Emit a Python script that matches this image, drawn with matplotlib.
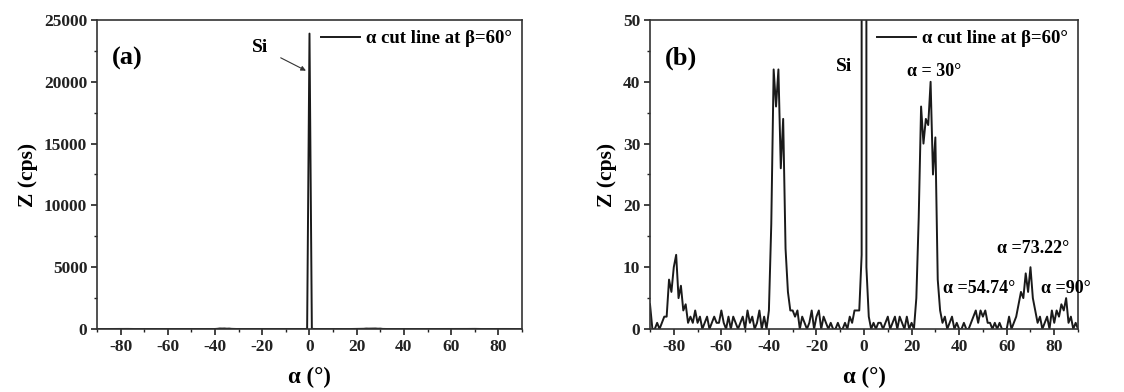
import numpy as np
import matplotlib
matplotlib.use("Agg")
import matplotlib.pyplot as plt
from matplotlib.ticker import MultipleLocator

plt.rcParams['font.family'] = ['Liberation Serif', 'DejaVu Serif']
plt.rcParams['font.weight'] = 'bold'
plt.rcParams['axes.labelweight'] = 'bold'
plt.rcParams['axes.unicode_minus'] = False

# alpha cut line at beta = 60 deg, 1 deg steps from -90 to 90
alpha = list(range(-90, 91))
counts = [
    4, 0, 0, 1, 0, 1, 2, 2, 8, 6,            # -90 .. -81
    10, 12, 5, 7, 3, 4, 1, 2, 1, 3,          # -80 .. -71
    1, 2, 0, 1, 2, 0, 1, 2, 1, 1,            # -70 .. -61
    3, 1, 0, 2, 0, 2, 1, 0, 1, 2,            # -60 .. -51
    0, 3, 1, 2, 0, 1, 3, 0, 2, 0,            # -50 .. -41
    3, 17, 42, 36, 42, 26, 34, 13, 6, 3,     # -40 .. -31
    3, 2, 3, 0, 2, 1, 0, 1, 3, 0,            # -30 .. -21
    2, 3, 0, 2, 1, 0, 1, 0, 0, 1,            # -20 .. -11
    0, 0, 1, 0, 2, 1, 3, 3, 3, 12, 23900,    # -10 .. 0   (Si)
    10, 2, 0, 1, 0, 1, 1, 0, 1, 2,           # 1 .. 10
    0, 1, 2, 0, 2, 1, 0, 2, 0, 1,            # 11 .. 20
    0, 5, 18, 36, 30, 34, 33, 40, 25, 31,    # 21 .. 30
    8, 3, 1, 2, 0, 1, 2, 0, 1, 0,            # 31 .. 40
    0, 1, 0, 0, 1, 2, 3, 1, 3, 2,            # 41 .. 50
    3, 1, 1, 0, 1, 0, 1, 0, 0, 0,            # 51 .. 60
    2, 0, 1, 2, 4, 6, 5, 9, 6, 10,           # 61 .. 70
    5, 3, 1, 2, 0, 1, 2, 0, 3, 1,            # 71 .. 80
    3, 2, 4, 3, 5, 1, 2, 0, 1, 0,            # 81 .. 90
]

legend_label = "α cut line at β=60°"
line_color = "#1a1a1a"

fig = plt.figure(figsize=(11.24, 3.92), dpi=100)
ax1 = fig.add_axes([0.0863, 0.1607, 0.3781, 0.7883])
ax2 = fig.add_axes([0.5783, 0.1607, 0.3808, 0.7883])


def style(ax, ymax, ymajor, yminor):
    ax.set_xlim(-90, 90)
    ax.set_ylim(0, ymax)
    ax.xaxis.set_major_locator(MultipleLocator(20))
    ax.xaxis.set_minor_locator(MultipleLocator(10))
    ax.yaxis.set_major_locator(MultipleLocator(ymajor))
    ax.yaxis.set_minor_locator(MultipleLocator(yminor))
    ax.set_xticks(range(-80, 81, 20))
    ax.tick_params(which='major', direction='out', length=4, width=1.2,
                   labelsize=12.5, colors='#222222', pad=3)
    ax.tick_params(which='minor', direction='out', length=2.5, width=1.0,
                   colors='#222222')
    for lab in ax.get_xticklabels() + ax.get_yticklabels():
        lab.set_fontweight('bold')
    for s in ax.spines.values():
        s.set_linewidth(1.2)
        s.set_color('#333333')
    ax.set_xlabel("α (°)", fontsize=16.5, labelpad=9)
    ax.set_ylabel("Z (cps)", fontsize=15.5, labelpad=4)
    leg = ax.legend(loc='upper right', frameon=False, fontsize=13.5,
                    handlelength=2.1, handletextpad=0.3,
                    borderaxespad=0.15)
    for t in leg.get_texts():
        t.set_fontweight('bold')


# panel (a)
ax1.plot(alpha, counts, color=line_color, lw=1.4, label=legend_label)
style(ax1, 25000, 5000, 2500)
ax1.text(0.035, 0.855, "(a)", transform=ax1.transAxes, fontsize=19,
         fontweight='bold')
ax1.annotate("Si", xy=(-1.5, 20900), xytext=(-21, 22800),
             fontsize=14, fontweight='bold', ha='center', va='center',
             arrowprops=dict(arrowstyle='-|>', color='#333333', lw=0.8,
                             mutation_scale=7, shrinkA=8, shrinkB=0))

# panel (b)
ax2.plot(alpha, counts, color=line_color, lw=1.4, label=legend_label)
style(ax2, 50, 10, 5)
ax2.text(0.035, 0.855, "(b)", transform=ax2.transAxes, fontsize=19,
         fontweight='bold')
ax2.text(-8.5, 42.5, "Si", fontsize=14, fontweight='bold',
         ha='center', va='center')
ax2.text(29.5, 41.7, "α = 30°", fontsize=13, fontweight='bold',
         ha='center', va='center')
ax2.text(71, 13.1, "α =73.22°", fontsize=13, fontweight='bold',
         ha='center', va='center')
ax2.text(48.3, 6.6, "α =54.74°", fontsize=13, fontweight='bold',
         ha='center', va='center')
ax2.text(74.3, 6.6, "α =90°", fontsize=13, fontweight='bold',
         ha='left', va='center', clip_on=False)

fig.savefig("out.png", dpi=100, facecolor='white')
